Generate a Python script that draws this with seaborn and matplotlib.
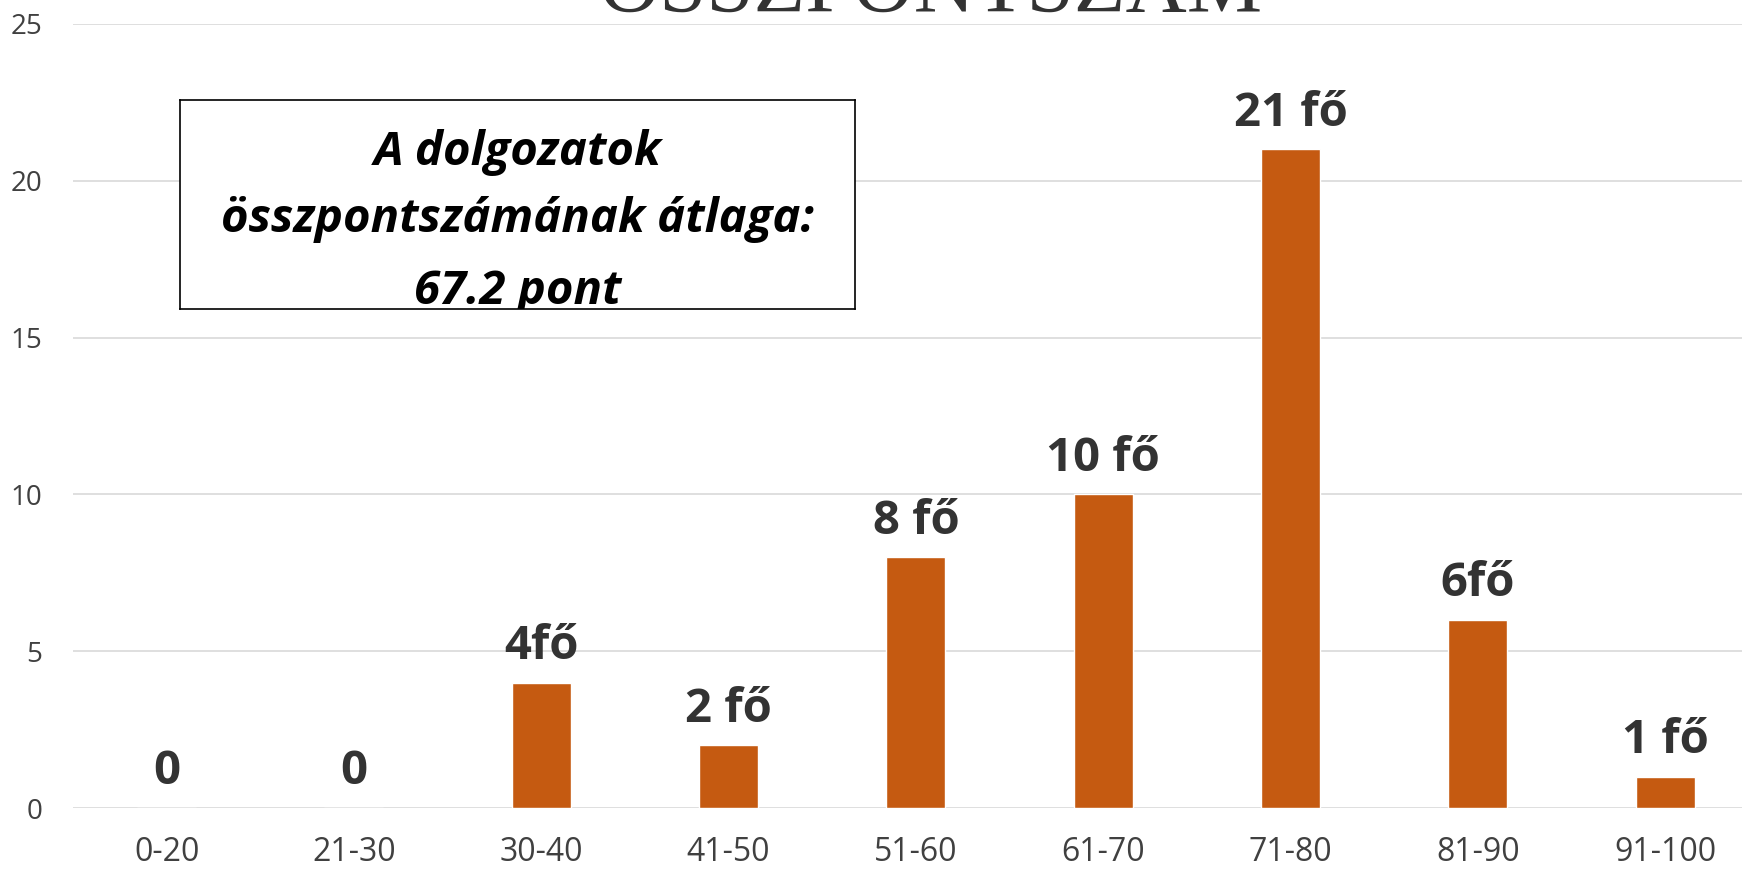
import matplotlib
matplotlib.use("Agg")
import matplotlib.pyplot as plt
import seaborn as sns
import pandas as pd

# adatok
categories = ["0-20", "21-30", "30-40", "41-50", "51-60", "61-70", "71-80", "81-90", "91-100"]
counts = [0, 0, 4, 2, 8, 10, 21, 6, 1]
bar_labels = ["0", "0", "4fő", "2 fő", "8 fő", "10 fő", "21 fő", "6fő", "1 fő"]
title = "ÖSSZPONTSZÁM"
box_lines = ["A dolgozatok", "összpontszámának átlaga:", "67.2 pont"]
y_ticks = [0, 5, 10, 15, 20, 25]

df = pd.DataFrame({"kat": categories, "db": counts})

sns.set_style("white")
plt.rcParams['font.family'] = ['Open Sans', 'DejaVu Sans']

fig = plt.figure(figsize=(17.42, 8.71), dpi=100)
ax = fig.add_axes([73 / 1742, 63 / 871, 1 - 73 / 1742, 784 / 871])

sns.barplot(data=df, x="kat", y="db", color="#C55A11", saturation=1,
            width=0.315, ax=ax, zorder=3)

ax.set_ylim(0, 25)
ax.set_xlim(-0.5, 8.41)
ax.set_yticks(y_ticks)
ax.yaxis.grid(True, color="#D9D9D9", linewidth=1.2, zorder=0)
ax.set_axisbelow(True)
for s in ax.spines.values():
    s.set_visible(False)
ax.tick_params(axis="both", length=0)
ax.tick_params(axis="x", labelsize=23, labelcolor="#404040", pad=20)
ax.tick_params(axis="y", labelsize=20, labelcolor="#404040", pad=22)
ax.set_xlabel("")
ax.set_ylabel("")

# adatfeliratok
for i, (v, lab) in enumerate(zip(counts, bar_labels)):
    ax.text(i, v + 0.75, lab, ha="center", va="baseline", fontsize=34,
            fontweight="bold", color="#333333")

# cím (felül levágva)
fig.text(931 / 1742, 1 - 12 / 871, title, ha="center", va="baseline",
         fontsize=61, family="Liberation Serif", color="#333333")

# szövegdoboz
box = fig.add_axes([180 / 1742, 1 - 309 / 871, 675 / 1742, 209 / 871])
box.set_xticks([])
box.set_yticks([])
box.set_facecolor("white")
for s in box.spines.values():
    s.set_color("#000000")
    s.set_linewidth(1.2)
for y, line in zip([0.69, 0.37, 0.025], box_lines):
    box.text(0.5, y, line, ha="center", va="baseline", fontsize=34,
             fontweight="bold", fontstyle="italic", color="black",
             transform=box.transAxes, clip_on=True)

fig.savefig("out.png", dpi=100)
